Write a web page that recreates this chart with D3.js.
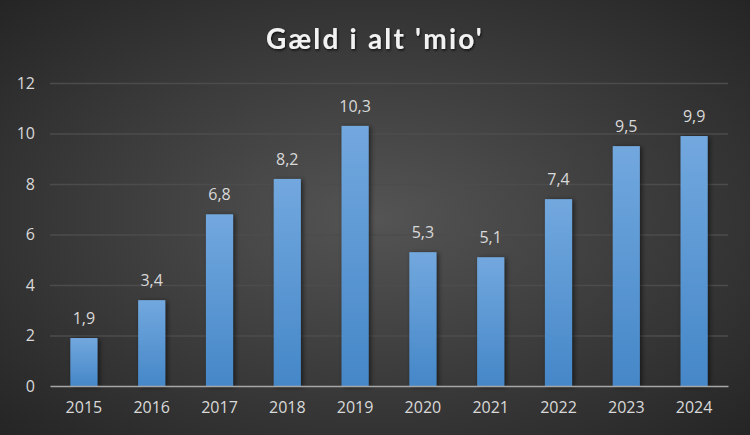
<!DOCTYPE html>
<html><head><meta charset="utf-8">
<script src="https://cdn.jsdelivr.net/npm/d3@7"></script>
<style>html,body{margin:0;padding:0;background:#333;}svg{display:block;}</style>
</head><body>
<script>
const categories = ["2015","2016","2017","2018","2019","2020","2021","2022","2023","2024"];
const values = [1.9,3.4,6.8,8.2,10.3,5.3,5.1,7.4,9.5,9.9];
const valueLabels = ["1,9","3,4","6,8","8,2","10,3","5,3","5,1","7,4","9,5","9,9"];
const yTicks = [0,2,4,6,8,10,12];
const title = "Gæld i alt 'mio'";

const W=750,H=435;
const m={left:50,right:22,top:83,bottom:49};
const svg=d3.select("body").append("svg").attr("width",W).attr("height",H);
const defs=svg.append("defs");
const bg=defs.append("radialGradient").attr("id","bg").attr("cx","50%").attr("cy","50%").attr("r","75%");
bg.append("stop").attr("offset","0%").attr("stop-color","#545454");
bg.append("stop").attr("offset","100%").attr("stop-color","#222222");
const bar=defs.append("linearGradient").attr("id","bar").attr("x1",0).attr("y1",0).attr("x2",0).attr("y2",1);
bar.append("stop").attr("offset","0%").attr("stop-color","#72a8de");
bar.append("stop").attr("offset","100%").attr("stop-color","#4587c8");
const sh=defs.append("filter").attr("id","sh").attr("x","-50%").attr("y","-20%").attr("width","200%").attr("height","140%");
sh.append("feDropShadow").attr("dx",2).attr("dy",1).attr("stdDeviation",2.5).attr("flood-color","#000").attr("flood-opacity",0.55);
const tsh=defs.append("filter").attr("id","tsh");
tsh.append("feDropShadow").attr("dx",1).attr("dy",1.5).attr("stdDeviation",1.2).attr("flood-color","#000").attr("flood-opacity",0.7);

svg.append("rect").attr("width",W).attr("height",H).attr("fill","url(#bg)");

const x=d3.scaleBand().domain(categories).range([m.left,W-m.right]).paddingInner(0.6).paddingOuter(0.3);
const y=d3.scaleLinear().domain([0,12]).range([H-m.bottom,m.top]);

svg.append("text").attr("x",375).attr("y",49).attr("text-anchor","middle")
  .attr("font-family","Lato, 'Open Sans', sans-serif").attr("font-weight","bold").attr("font-size",28)
  .attr("letter-spacing","2.2px").attr("fill","#f2f2f2").attr("filter","url(#tsh)").text(title);

const yAxis=svg.append("g").attr("transform",`translate(${m.left},0)`)
  .call(d3.axisLeft(y).tickValues(yTicks).tickSize(-(W-m.left-m.right)).tickPadding(15).tickFormat(d=>d));
yAxis.select(".domain").remove();
yAxis.selectAll("line").attr("stroke","#4c4c4c").attr("stroke-width",1.3);
yAxis.selectAll("text").attr("fill","#d9d9d9").attr("font-size",16).attr("font-family","'Open Sans', sans-serif");
yAxis.selectAll(".tick").filter(d=>d===0).select("line").remove();

svg.selectAll("rect.bar").data(values).join("rect").attr("class","bar")
  .attr("x",(d,i)=>x(categories[i])).attr("width",x.bandwidth())
  .attr("y",d=>y(d)).attr("height",d=>y(0)-y(d))
  .attr("fill","url(#bar)").attr("filter","url(#sh)");

const xAxis=svg.append("g").attr("transform",`translate(0,${y(0)})`)
  .call(d3.axisBottom(x).tickSize(0).tickPadding(16));
xAxis.select(".domain").attr("stroke","#a6a6a6").attr("stroke-width",1.5);
xAxis.selectAll("text").attr("fill","#d9d9d9").attr("font-size",16).attr("font-family","'Open Sans', sans-serif");

svg.selectAll("text.lbl").data(values).join("text").attr("class","lbl")
  .attr("x",(d,i)=>x(categories[i])+x.bandwidth()/2).attr("y",d=>y(d)-14)
  .attr("text-anchor","middle").attr("fill","#d9d9d9").attr("font-size",16)
  .attr("font-family","'Open Sans', sans-serif").text((d,i)=>valueLabels[i]);
</script>
</body></html>
